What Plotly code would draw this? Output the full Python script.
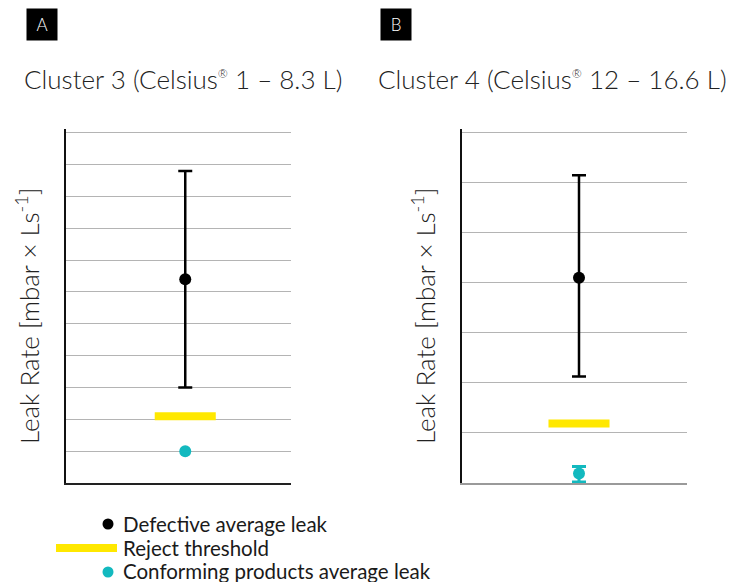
import plotly.graph_objects as go

W, H = 729, 582

# ---- data ----
panel_labels = ["A", "B"]
REG = '<sup><span style="font-size:12px">®</span></sup>'
panel_titles = ["Cluster 3 (Celsius" + REG + " 1 – 8.3 L)",
                "Cluster 4 (Celsius" + REG + " 12 – 16.6 L)"]
categories = ["Cluster 3", "Cluster 4"]
defective_mean = [6.4, 4.1]
defective_upper = [9.8, 6.15]
defective_lower = [3.0, 2.13]
reject_threshold = [2.1, 1.19]
conforming_mean = [1.0, 0.19]
conforming_upper = [1.0, 0.33]
conforming_lower = [1.0, 0.02]
y_max = [11, 7]
legend_labels = ["Defective average leak", "Reject threshold", "Conforming products average leak"]

BLACK = "#000000"
YELLOW = "#ffe800"
CYAN = "#13b9bf"
GRID = "#b4b4b4"
FONT = "Lato"

fig = go.Figure()

# pixel geometry of the panels
x_px = [(66, 291), (462, 687)]
y_bot_px, y_top_px = 483.0, 132.7
over = 1.01  # small headroom so the top gridline is drawn
x_center_frac = [0.53, 0.52]

for i in range(2):
    xa = "x" if i == 0 else "x2"
    ya = "y" if i == 0 else "y2"
    cat = [categories[i]]
    fig.add_trace(go.Scatter(
        x=cat, y=[conforming_mean[i]], xaxis=xa, yaxis=ya, mode="markers",
        marker=dict(color=CYAN, size=12),
        error_y=dict(type="data", symmetric=False,
                     array=[conforming_upper[i] - conforming_mean[i]],
                     arrayminus=[conforming_mean[i] - conforming_lower[i]],
                     color=CYAN, thickness=3, width=7,
                     visible=(conforming_upper[i] != conforming_lower[i])),
        showlegend=False, cliponaxis=False))
    fig.add_trace(go.Scatter(
        x=cat, y=[reject_threshold[i]], xaxis=xa, yaxis=ya, mode="markers",
        marker=dict(symbol="line-ew", size=43.6, color=YELLOW,
                    line=dict(color=YELLOW, width=8)),
        showlegend=False))
    fig.add_trace(go.Scatter(
        x=cat, y=[defective_mean[i]], xaxis=xa, yaxis=ya, mode="markers",
        marker=dict(color=BLACK, size=12),
        error_y=dict(type="data", symmetric=False,
                     array=[defective_upper[i] - defective_mean[i]],
                     arrayminus=[defective_mean[i] - defective_lower[i]],
                     color=BLACK, thickness=2.5, width=7),
        showlegend=False))

def xdom(i):
    return [x_px[i][0] / W, x_px[i][1] / W]

top_px = y_bot_px - (y_bot_px - y_top_px) * over
ydom = [1 - y_bot_px / H, 1 - top_px / H]

common_y = dict(showgrid=True, gridcolor=GRID, gridwidth=1.3, dtick=1, tick0=0,
                showticklabels=False, ticks="", zeroline=False,
                showline=True, linecolor="#111111", linewidth=2, domain=ydom)

fig.update_layout(
    width=W, height=H, margin=dict(l=0, r=0, t=0, b=0),
    paper_bgcolor="white", plot_bgcolor="white",
    font=dict(family=FONT, color="#222222"),
    xaxis=dict(domain=xdom(0), type="category",
               range=[-x_center_frac[0], 1 - x_center_frac[0]],
               showgrid=False, showticklabels=False, ticks="", zeroline=False,
               showline=True, linecolor="#222222", linewidth=2, anchor="y"),
    xaxis2=dict(domain=xdom(1), type="category",
                range=[-x_center_frac[1], 1 - x_center_frac[1]],
                showgrid=False, showticklabels=False, ticks="", zeroline=False,
                showline=True, linecolor="#9a9a9a", linewidth=2, anchor="y2"),
    yaxis=dict(range=[0, y_max[0] * over], anchor="x", **common_y),
    yaxis2=dict(range=[0, y_max[1] * over], anchor="x2", **common_y),
    showlegend=False,
)

ann = []
for i, lx in enumerate([42, 396]):
    ann.append(dict(text=panel_labels[i], x=lx / W, y=1 - 25 / H, xref="paper", yref="paper",
                    xanchor="center", yanchor="middle", showarrow=False,
                    bgcolor="black", width=28, height=29,
                    font=dict(color="white", size=17, family=FONT, weight=300)))
for i, tx in enumerate([22, 376]):
    ann.append(dict(text=panel_titles[i], x=tx / W, y=1 - 79 / H, xref="paper", yref="paper",
                    xanchor="left", yanchor="middle", showarrow=False,
                    font=dict(size=26, family=FONT, weight=300, color="#222222")))
for i, ax in enumerate([27, 423]):
    ann.append(dict(text="Leak Rate [mbar × Ls<sup>-1</sup>]", x=ax / W, y=1 - 316 / H,
                    xref="paper", yref="paper", xanchor="center", yanchor="middle",
                    textangle=-90, showarrow=False,
                    font=dict(size=26, family=FONT, weight=300, color="#222222")))
leg_y = [524, 548, 571]
for j, lab in enumerate(legend_labels):
    ann.append(dict(text=lab, x=121 / W, y=1 - leg_y[j] / H, xref="paper", yref="paper",
                    xanchor="left", yanchor="middle", showarrow=False,
                    font=dict(size=20.5, family=FONT, color="#1a1a1a")))
fig.update_layout(annotations=ann)

shapes = [
    dict(type="circle", xref="paper", yref="paper",
         x0=(108 - 5.5) / W, x1=(108 + 5.5) / W, y0=1 - (524 + 5.5) / H, y1=1 - (524 - 5.5) / H,
         fillcolor=BLACK, line=dict(width=0)),
    dict(type="rect", xref="paper", yref="paper",
         x0=56 / W, x1=117 / W, y0=1 - 552 / H, y1=1 - 544 / H,
         fillcolor=YELLOW, line=dict(width=0)),
    dict(type="circle", xref="paper", yref="paper",
         x0=(108 - 5.5) / W, x1=(108 + 5.5) / W, y0=1 - (572 + 5.5) / H, y1=1 - (572 - 5.5) / H,
         fillcolor=CYAN, line=dict(width=0)),
]
fig.update_layout(shapes=shapes)

fig.write_html("out.html")
